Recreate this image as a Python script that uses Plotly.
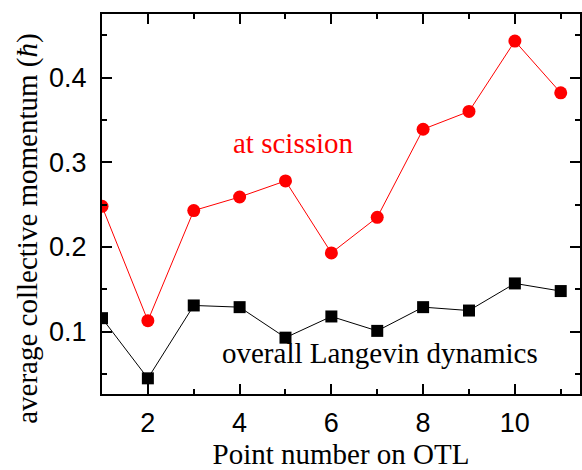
import plotly.graph_objects as go

points = [1, 2, 3, 4, 5, 6, 7, 8, 9, 10, 11]
at_scission = [0.248, 0.113, 0.243, 0.259, 0.278, 0.193, 0.235, 0.339, 0.360, 0.443, 0.382]
overall_langevin = [0.116, 0.045, 0.131, 0.129, 0.093, 0.118, 0.101, 0.129, 0.125, 0.157, 0.148]

x_title = "Point number on OTL"
y_title = "average collective momentum (<i>ħ</i>)"
label_scission = "at scission"
label_overall = "overall Langevin dynamics"

serif = "Liberation Serif, Times New Roman, serif"
sans = "Liberation Sans, Arial, sans-serif"

fig = go.Figure()
fig.add_trace(go.Scatter(
    x=points, y=at_scission, mode="lines+markers", name=label_scission,
    line=dict(color="#ff0000", width=1),
    marker=dict(symbol="circle", size=13, color="#ff0000"),
))
fig.add_trace(go.Scatter(
    x=points, y=overall_langevin, mode="lines+markers", name=label_overall,
    line=dict(color="#000000", width=1),
    marker=dict(symbol="square", size=12, color="#000000"),
))

axis_common = dict(
    showline=True, linewidth=2, linecolor="black", mirror="ticks",
    ticks="inside", ticklen=10, tickwidth=2, tickcolor="black",
    showgrid=False, zeroline=False,
    tickfont=dict(family=sans, size=27, color="black"),
)

fig.update_xaxes(
    range=[1, 11.42], tickmode="linear", tick0=2, dtick=2,
    minor=dict(ticks="inside", ticklen=5, tickwidth=2, tickcolor="black", tick0=1, dtick=1),
    title=dict(text=x_title, font=dict(family=serif, size=29, color="black"), standoff=11),
    ticklabelstandoff=4,
    automargin=False,
    **axis_common,
)
fig.update_yaxes(
    range=[0.0265, 0.475], tickmode="array", tickvals=[0.1, 0.2, 0.3, 0.4],
    ticktext=["0.1", "0.2", "0.3", "0.4"],
    minor=dict(ticks="inside", ticklen=5, tickwidth=2, tickcolor="black",
               tickmode="array", tickvals=[0.05, 0.15, 0.25, 0.35, 0.45]),
    ticklabelstandoff=8,
    automargin=False,
    **axis_common,
)

fig.add_annotation(
    text=y_title, xref="paper", yref="paper", x=-0.155, y=0.437,
    textangle=-90, showarrow=False, xanchor="center", yanchor="middle",
    font=dict(family=serif, size=29, color="black"),
)
fig.add_annotation(
    text=label_scission, xref="x", yref="y", x=5.18, y=0.3228,
    showarrow=False, xanchor="center", yanchor="middle",
    font=dict(family=serif, size=29, color="#ff0000"),
)
fig.add_annotation(
    text=label_overall, xref="x", yref="y", x=7.05, y=0.0749,
    showarrow=False, xanchor="center", yanchor="middle",
    font=dict(family=serif, size=29, color="black"),
)

fig.update_layout(
    width=582, height=470,
    margin=dict(l=102, r=2, t=14, b=76),
    paper_bgcolor="white", plot_bgcolor="white",
    showlegend=False,
)

fig.write_html(
    "out.html",
    config={"displayModeBar": False},
    post_script="document.body.style.margin='0px';document.body.style.overflow='hidden';",
)
